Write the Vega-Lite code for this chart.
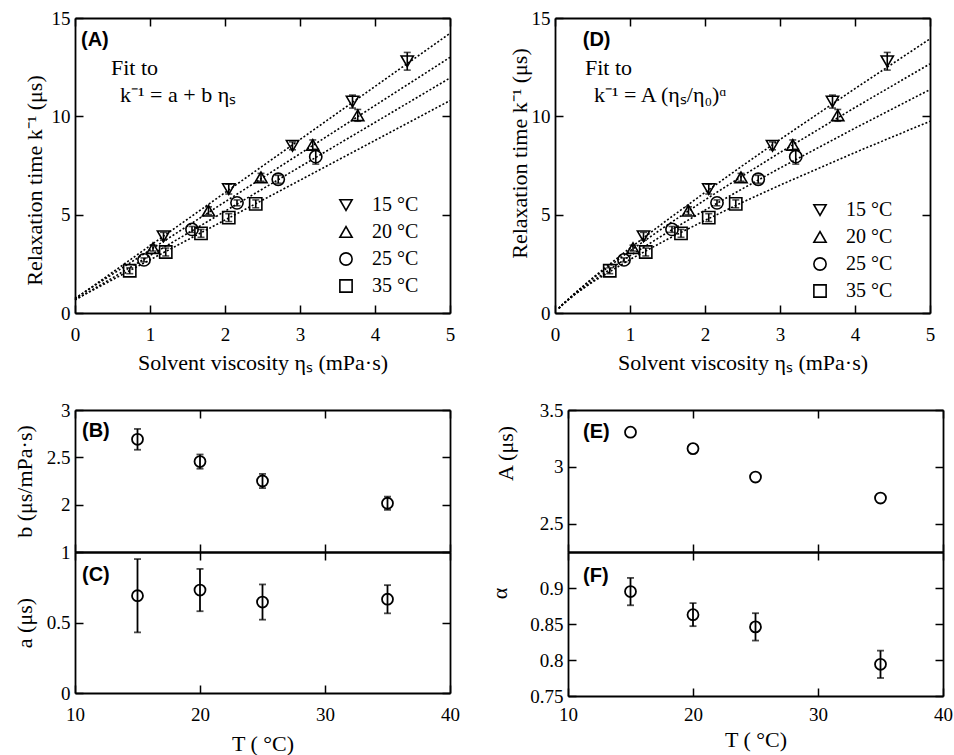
{
  "$schema": "https://vega.github.io/schema/vega-lite/v6.json",
  "width": 954,
  "height": 755,
  "autosize": {"type": "none"},
  "padding": 0,
  "background": "white",
  "config": {
    "view": {"stroke": null},
    "font": "Liberation Serif, Times New Roman, serif",
    "axis": {
      "domain": true, "domainColor": "black", "domainWidth": 1.8,
      "ticks": true, "tickColor": "black", "tickWidth": 1.5, "tickSize": -8,
      "grid": false,
      "labelFont": "Liberation Serif, Times New Roman, serif", "labelFontSize": 19, "labelColor": "black",
      "labelFlush": false, "labelOverlap": false, "labelBound": false,
      "titleFont": "Liberation Serif, Times New Roman, serif", "titleFontSize": 22, "titleFontWeight": "normal", "titleColor": "black",
      "minExtent": 0
    },
    "axisX": {"labelPadding": 20},
    "axisY": {"labelPadding": 13},
    "legend": {
      "labelFont": "Liberation Serif, Times New Roman, serif", "labelFontSize": 20, "labelColor": "black",
      "padding": 0, "rowPadding": 7, "labelOffset": 16,
      "symbolStrokeWidth": 1.6, "symbolStrokeColor": "black", "symbolFillColor": "transparent", "symbolSize": 150
    }
  },
  "datasets": {
    "pts": [
      {"T": "15 °C", "eta": 1.18, "k": 3.9, "err": 0.2},
      {"T": "15 °C", "eta": 2.05, "k": 6.3, "err": 0.25},
      {"T": "15 °C", "eta": 2.9, "k": 8.5, "err": 0.2},
      {"T": "15 °C", "eta": 3.7, "k": 10.75, "err": 0.33},
      {"T": "15 °C", "eta": 4.43, "k": 12.8, "err": 0.45},
      {"T": "20 °C", "eta": 1.04, "k": 3.3, "err": 0.15},
      {"T": "20 °C", "eta": 1.78, "k": 5.2, "err": 0.2},
      {"T": "20 °C", "eta": 2.48, "k": 6.9, "err": 0.2},
      {"T": "20 °C", "eta": 3.17, "k": 8.55, "err": 0.25},
      {"T": "20 °C", "eta": 3.77, "k": 10.05, "err": 0.3},
      {"T": "25 °C", "eta": 0.92, "k": 2.7, "err": 0.1},
      {"T": "25 °C", "eta": 1.56, "k": 4.25, "err": 0.15},
      {"T": "25 °C", "eta": 2.16, "k": 5.6, "err": 0.15},
      {"T": "25 °C", "eta": 2.71, "k": 6.8, "err": 0.2},
      {"T": "25 °C", "eta": 3.21, "k": 7.95, "err": 0.38},
      {"T": "35 °C", "eta": 0.73, "k": 2.15, "err": 0.15},
      {"T": "35 °C", "eta": 1.21, "k": 3.1, "err": 0.2},
      {"T": "35 °C", "eta": 1.68, "k": 4.05, "err": 0.2},
      {"T": "35 °C", "eta": 2.05, "k": 4.85, "err": 0.2},
      {"T": "35 °C", "eta": 2.41, "k": 5.55, "err": 0.2}
    ],
    "fitA": [
      {"T": "15 °C", "eta": 0, "k": 0.72}, {"T": "15 °C", "eta": 5, "k": 14.22},
      {"T": "20 °C", "eta": 0, "k": 0.75}, {"T": "20 °C", "eta": 5, "k": 13.0},
      {"T": "25 °C", "eta": 0, "k": 0.66}, {"T": "25 °C", "eta": 5, "k": 11.95},
      {"T": "35 °C", "eta": 0, "k": 0.68}, {"T": "35 °C", "eta": 5, "k": 10.8}
    ],
    "fitD": [
      {"T": "15 °C", "eta": 0.05, "k": 0.23}, {"T": "15 °C", "eta": 0.1, "k": 0.42}, {"T": "15 °C", "eta": 0.25, "k": 0.95}, {"T": "15 °C", "eta": 0.5, "k": 1.78}, {"T": "15 °C", "eta": 1, "k": 3.3}, {"T": "15 °C", "eta": 1.5, "k": 4.74}, {"T": "15 °C", "eta": 2, "k": 6.13}, {"T": "15 °C", "eta": 2.5, "k": 7.49}, {"T": "15 °C", "eta": 3, "k": 8.82}, {"T": "15 °C", "eta": 4, "k": 11.41}, {"T": "15 °C", "eta": 5, "k": 13.94},
      {"T": "20 °C", "eta": 0.05, "k": 0.24}, {"T": "20 °C", "eta": 0.1, "k": 0.43}, {"T": "20 °C", "eta": 0.25, "k": 0.96}, {"T": "20 °C", "eta": 0.5, "k": 1.74}, {"T": "20 °C", "eta": 1, "k": 3.16}, {"T": "20 °C", "eta": 1.5, "k": 4.48}, {"T": "20 °C", "eta": 2, "k": 5.75}, {"T": "20 °C", "eta": 2.5, "k": 6.97}, {"T": "20 °C", "eta": 3, "k": 8.16}, {"T": "20 °C", "eta": 4, "k": 10.45}, {"T": "20 °C", "eta": 5, "k": 12.67},
      {"T": "25 °C", "eta": 0.05, "k": 0.23}, {"T": "25 °C", "eta": 0.1, "k": 0.42}, {"T": "25 °C", "eta": 0.25, "k": 0.9}, {"T": "25 °C", "eta": 0.5, "k": 1.62}, {"T": "25 °C", "eta": 1, "k": 2.91}, {"T": "25 °C", "eta": 1.5, "k": 4.1}, {"T": "25 °C", "eta": 2, "k": 5.23}, {"T": "25 °C", "eta": 2.5, "k": 6.32}, {"T": "25 °C", "eta": 3, "k": 7.37}, {"T": "25 °C", "eta": 4, "k": 9.4}, {"T": "25 °C", "eta": 5, "k": 11.36},
      {"T": "35 °C", "eta": 0.05, "k": 0.25}, {"T": "35 °C", "eta": 0.1, "k": 0.44}, {"T": "35 °C", "eta": 0.25, "k": 0.91}, {"T": "35 °C", "eta": 0.5, "k": 1.57}, {"T": "35 °C", "eta": 1, "k": 2.72}, {"T": "35 °C", "eta": 1.5, "k": 3.75}, {"T": "35 °C", "eta": 2, "k": 4.71}, {"T": "35 °C", "eta": 2.5, "k": 5.63}, {"T": "35 °C", "eta": 3, "k": 6.5}, {"T": "35 °C", "eta": 4, "k": 8.16}, {"T": "35 °C", "eta": 5, "k": 9.75}
    ],
    "par": [
      {"T": 15, "b": 2.69, "b_err": 0.11, "a": 0.69, "a_err": 0.26, "A": 3.305, "alpha": 0.895, "alpha_err": 0.019},
      {"T": 20, "b": 2.455, "b_err": 0.075, "a": 0.73, "a_err": 0.15, "A": 3.16, "alpha": 0.863, "alpha_err": 0.016},
      {"T": 25, "b": 2.25, "b_err": 0.075, "a": 0.645, "a_err": 0.125, "A": 2.91, "alpha": 0.846, "alpha_err": 0.019},
      {"T": 35, "b": 2.015, "b_err": 0.07, "a": 0.665, "a_err": 0.1, "A": 2.725, "alpha": 0.794, "alpha_err": 0.019}
    ],
    "lab": [
      {"p": "A", "kind": "panel", "x": 0.08, "y": 13.9, "text": "(A)"},
      {"p": "A", "kind": "note", "x": 0.48, "y": 12.45, "text": "Fit to"},
      {"p": "A", "kind": "note", "x": 0.6, "y": 11.1, "text": "k⁻¹ = a + b ηₛ"},
      {"p": "D", "kind": "panel", "x": 0.37, "y": 13.9, "text": "(D)"},
      {"p": "D", "kind": "note", "x": 0.4, "y": 12.45, "text": "Fit to"},
      {"p": "D", "kind": "note", "x": 0.52, "y": 11.1, "text": "k⁻¹ = A (ηₛ/η₀)ᵅ"},
      {"p": "B", "kind": "panel", "x": 10.56, "y": 2.78, "text": "(B)"},
      {"p": "C", "kind": "panel", "x": 10.56, "y": 0.837, "text": "(C)"},
      {"p": "E", "kind": "panel", "x": 11.2, "y": 3.31, "text": "(E)"},
      {"p": "F", "kind": "panel", "x": 11.2, "y": 0.916, "text": "(F)"}
    ]
  },
  "resolve": {
    "scale": {"x": "independent", "y": "independent", "shape": "independent"},
    "axis": {"x": "independent", "y": "independent"},
    "legend": {"shape": "independent"}
  },
  "layer": [
    {
      "layer": [
        {
          "data": {"name": "fitA"},
          "mark": {"type": "line", "color": "black", "strokeWidth": 1.6, "strokeDash": [2, 2]},
          "encoding": {
            "x": {"field": "eta", "type": "quantitative", "scale": {"domain": [0, 5], "range": [75, 450], "nice": false, "zero": false},
                  "axis": {"orient": "bottom", "offset": -442, "values": [0, 1, 2, 3, 4, 5], "format": "d", "title": "Solvent viscosity  ηₛ (mPa·s)", "titlePadding": 8}},
            "y": {"field": "k", "type": "quantitative", "scale": {"domain": [0, 15], "range": [313, 18], "nice": false, "zero": false},
                  "axis": {"orient": "left", "offset": -75, "values": [0, 5, 10, 15], "format": "d", "title": "Relaxation time  k⁻¹ (μs)", "titlePadding": 5, "titleY": 180}},
            "detail": {"field": "T", "type": "nominal"}
          }
        },
        {
          "data": {"name": "pts"},
          "mark": {"type": "errorbar", "ticks": true, "size": 7, "thickness": 1.6, "color": "black"},
          "encoding": {
            "x": {"field": "eta", "type": "quantitative", "axis": null},
            "y": {"field": "k", "type": "quantitative", "axis": null},
            "yError": {"field": "err"}
          }
        },
        {
          "data": {"name": "pts"},
          "mark": {"type": "point", "filled": false, "color": "black", "strokeWidth": 1.6, "size": 150, "opacity": 1},
          "encoding": {
            "x": {"field": "eta", "type": "quantitative", "axis": null},
            "y": {"field": "k", "type": "quantitative", "axis": null},
            "shape": {"field": "T", "type": "nominal",
                      "scale": {"domain": ["15 °C", "20 °C", "25 °C", "35 °C"], "range": ["triangle-down", "triangle-up", "circle", "square"]},
                      "legend": {"orient": "none", "legendX": 336, "legendY": 195, "title": null}}
          }
        },
        {
          "data": {"name": "lab"},
          "transform": [{"filter": "datum.p === 'A' && datum.kind === 'panel'"}],
          "mark": {"type": "text", "font": "Liberation Sans, Arial, sans-serif", "fontWeight": "bold", "fontSize": 20, "align": "left", "baseline": "middle", "color": "black"},
          "encoding": {
            "x": {"field": "x", "type": "quantitative", "axis": {"orient": "top", "offset": -18, "values": [0, 1, 2, 3, 4, 5], "labels": false, "title": null}},
            "y": {"field": "y", "type": "quantitative", "axis": {"orient": "right", "offset": -504, "values": [0, 5, 10, 15], "labels": false, "title": null}},
            "text": {"field": "text"}
          }
        },
        {
          "data": {"name": "lab"},
          "transform": [{"filter": "datum.p === 'A' && datum.kind === 'note'"}],
          "mark": {"type": "text", "font": "Liberation Serif, Times New Roman, serif", "fontSize": 22, "align": "left", "baseline": "middle", "color": "black"},
          "encoding": {
            "x": {"field": "x", "type": "quantitative", "axis": null},
            "y": {"field": "y", "type": "quantitative", "axis": null},
            "text": {"field": "text"}
          }
        }
      ]
    },
    {
      "layer": [
        {
          "data": {"name": "fitD"},
          "mark": {"type": "line", "color": "black", "strokeWidth": 1.6, "strokeDash": [2, 2]},
          "encoding": {
            "x": {"field": "eta", "type": "quantitative", "scale": {"domain": [0, 5], "range": [555, 930], "nice": false, "zero": false},
                  "axis": {"orient": "bottom", "offset": -442, "values": [0, 1, 2, 3, 4, 5], "format": "d", "title": "Solvent viscosity  ηₛ (mPa·s)", "titlePadding": 8}},
            "y": {"field": "k", "type": "quantitative", "scale": {"domain": [0, 15], "range": [313, 18], "nice": false, "zero": false},
                  "axis": {"orient": "left", "offset": -555, "values": [0, 5, 10, 15], "format": "d", "title": "Relaxation time  k⁻¹ (μs)", "titlePadding": 0, "titleY": 153}},
            "detail": {"field": "T", "type": "nominal"}
          }
        },
        {
          "data": {"name": "pts"},
          "mark": {"type": "errorbar", "ticks": true, "size": 7, "thickness": 1.6, "color": "black"},
          "encoding": {
            "x": {"field": "eta", "type": "quantitative", "axis": null},
            "y": {"field": "k", "type": "quantitative", "axis": null},
            "yError": {"field": "err"}
          }
        },
        {
          "data": {"name": "pts"},
          "mark": {"type": "point", "filled": false, "color": "black", "strokeWidth": 1.6, "size": 150, "opacity": 1},
          "encoding": {
            "x": {"field": "eta", "type": "quantitative", "axis": null},
            "y": {"field": "k", "type": "quantitative", "axis": null},
            "shape": {"field": "T", "type": "nominal",
                      "scale": {"domain": ["15 °C", "20 °C", "25 °C", "35 °C"], "range": ["triangle-down", "triangle-up", "circle", "square"]},
                      "legend": {"orient": "none", "legendX": 810, "legendY": 200, "title": null}}
          }
        },
        {
          "data": {"name": "lab"},
          "transform": [{"filter": "datum.p === 'D' && datum.kind === 'panel'"}],
          "mark": {"type": "text", "font": "Liberation Sans, Arial, sans-serif", "fontWeight": "bold", "fontSize": 20, "align": "left", "baseline": "middle", "color": "black"},
          "encoding": {
            "x": {"field": "x", "type": "quantitative", "axis": {"orient": "top", "offset": -18, "values": [0, 1, 2, 3, 4, 5], "labels": false, "title": null}},
            "y": {"field": "y", "type": "quantitative", "axis": {"orient": "right", "offset": -24, "values": [0, 5, 10, 15], "labels": false, "title": null}},
            "text": {"field": "text"}
          }
        },
        {
          "data": {"name": "lab"},
          "transform": [{"filter": "datum.p === 'D' && datum.kind === 'note'"}],
          "mark": {"type": "text", "font": "Liberation Serif, Times New Roman, serif", "fontSize": 22, "align": "left", "baseline": "middle", "color": "black"},
          "encoding": {
            "x": {"field": "x", "type": "quantitative", "axis": null},
            "y": {"field": "y", "type": "quantitative", "axis": null},
            "text": {"field": "text"}
          }
        }
      ]
    },
    {
      "layer": [
        {
          "data": {"name": "par"},
          "mark": {"type": "errorbar", "ticks": true, "size": 7, "thickness": 1.8, "color": "black"},
          "encoding": {
            "x": {"field": "T", "type": "quantitative", "scale": {"domain": [10, 40], "range": [75, 450], "nice": false, "zero": false},
                  "axis": {"orient": "bottom", "offset": -203, "values": [10, 20, 30, 40], "labels": false, "title": null}},
            "y": {"field": "b", "type": "quantitative", "scale": {"domain": [1.5, 3], "range": [552, 410], "nice": false, "zero": false},
                  "axis": {"orient": "left", "offset": -75, "values": [2, 2.5, 3], "format": ".2~f", "title": "b  (μs/mPa·s)", "titlePadding": 10}},
            "yError": {"field": "b_err"}
          }
        },
        {
          "data": {"name": "par"},
          "mark": {"type": "point", "shape": "circle", "filled": false, "color": "black", "strokeWidth": 1.8, "size": 120, "opacity": 1},
          "encoding": {
            "x": {"field": "T", "type": "quantitative", "axis": null},
            "y": {"field": "b", "type": "quantitative", "axis": null}
          }
        },
        {
          "data": {"name": "lab"},
          "transform": [{"filter": "datum.p === 'B'"}],
          "mark": {"type": "text", "font": "Liberation Sans, Arial, sans-serif", "fontWeight": "bold", "fontSize": 20, "align": "left", "baseline": "middle", "color": "black"},
          "encoding": {
            "x": {"field": "x", "type": "quantitative", "axis": {"orient": "top", "offset": -410, "values": [10, 20, 30, 40], "labels": false, "title": null}},
            "y": {"field": "y", "type": "quantitative", "axis": {"orient": "right", "offset": -504, "values": [2, 2.5, 3], "labels": false, "title": null}},
            "text": {"field": "text"}
          }
        }
      ]
    },
    {
      "layer": [
        {
          "data": {"name": "par"},
          "mark": {"type": "errorbar", "ticks": true, "size": 7, "thickness": 1.8, "color": "black"},
          "encoding": {
            "x": {"field": "T", "type": "quantitative", "scale": {"domain": [10, 40], "range": [75, 450], "nice": false, "zero": false},
                  "axis": {"orient": "bottom", "offset": -62, "values": [10, 20, 30, 40], "format": "d", "title": "T ( °C)", "titlePadding": 9}},
            "y": {"field": "a", "type": "quantitative", "scale": {"domain": [0, 1], "range": [693, 552], "nice": false, "zero": false},
                  "axis": {"orient": "left", "offset": -75, "values": [0, 0.5, 1], "format": ".2~f", "title": "a  (μs)", "titlePadding": 10}},
            "yError": {"field": "a_err"}
          }
        },
        {
          "data": {"name": "par"},
          "mark": {"type": "point", "shape": "circle", "filled": false, "color": "black", "strokeWidth": 1.8, "size": 120, "opacity": 1},
          "encoding": {
            "x": {"field": "T", "type": "quantitative", "axis": null},
            "y": {"field": "a", "type": "quantitative", "axis": null}
          }
        },
        {
          "data": {"name": "lab"},
          "transform": [{"filter": "datum.p === 'C'"}],
          "mark": {"type": "text", "font": "Liberation Sans, Arial, sans-serif", "fontWeight": "bold", "fontSize": 20, "align": "left", "baseline": "middle", "color": "black"},
          "encoding": {
            "x": {"field": "x", "type": "quantitative", "axis": {"orient": "top", "offset": -552, "values": [10, 20, 30, 40], "labels": false, "title": null}},
            "y": {"field": "y", "type": "quantitative", "axis": {"orient": "right", "offset": -504, "values": [0, 0.5, 1], "labels": false, "title": null}},
            "text": {"field": "text"}
          }
        }
      ]
    },
    {
      "layer": [
        {
          "data": {"name": "par"},
          "mark": {"type": "point", "shape": "circle", "filled": false, "color": "black", "strokeWidth": 1.8, "size": 120, "opacity": 1},
          "encoding": {
            "x": {"field": "T", "type": "quantitative", "scale": {"domain": [10, 40], "range": [568, 943], "nice": false, "zero": false},
                  "axis": {"orient": "bottom", "offset": -203, "values": [10, 20, 30, 40], "labels": false, "title": null}},
            "y": {"field": "A", "type": "quantitative", "scale": {"domain": [2.25, 3.5], "range": [552, 410], "nice": false, "zero": false},
                  "axis": {"orient": "left", "offset": -568, "values": [2.5, 3, 3.5], "format": ".2~f", "title": "A  (μs)", "titlePadding": 22, "titleY": 453}}
          }
        },
        {
          "data": {"name": "lab"},
          "transform": [{"filter": "datum.p === 'E'"}],
          "mark": {"type": "text", "font": "Liberation Sans, Arial, sans-serif", "fontWeight": "bold", "fontSize": 20, "align": "left", "baseline": "middle", "color": "black"},
          "encoding": {
            "x": {"field": "x", "type": "quantitative", "axis": {"orient": "top", "offset": -410, "values": [10, 20, 30, 40], "labels": false, "title": null}},
            "y": {"field": "y", "type": "quantitative", "axis": {"orient": "right", "offset": -11, "values": [2.5, 3, 3.5], "labels": false, "title": null}},
            "text": {"field": "text"}
          }
        }
      ]
    },
    {
      "layer": [
        {
          "data": {"name": "par"},
          "mark": {"type": "errorbar", "ticks": true, "size": 7, "thickness": 1.8, "color": "black"},
          "encoding": {
            "x": {"field": "T", "type": "quantitative", "scale": {"domain": [10, 40], "range": [568, 943], "nice": false, "zero": false},
                  "axis": {"orient": "bottom", "offset": -59, "values": [10, 20, 30, 40], "format": "d", "title": "T ( °C)", "titlePadding": 5, "labelPadding": 17}},
            "y": {"field": "alpha", "type": "quantitative", "scale": {"domain": [0.75, 0.95], "range": [696, 552], "nice": false, "zero": false},
                  "axis": {"orient": "left", "offset": -568, "values": [0.75, 0.8, 0.85, 0.9], "format": ".2~f", "title": "α", "titlePadding": 18, "titleY": 593}},
            "yError": {"field": "alpha_err"}
          }
        },
        {
          "data": {"name": "par"},
          "mark": {"type": "point", "shape": "circle", "filled": false, "color": "black", "strokeWidth": 1.8, "size": 120, "opacity": 1},
          "encoding": {
            "x": {"field": "T", "type": "quantitative", "axis": null},
            "y": {"field": "alpha", "type": "quantitative", "axis": null}
          }
        },
        {
          "data": {"name": "lab"},
          "transform": [{"filter": "datum.p === 'F'"}],
          "mark": {"type": "text", "font": "Liberation Sans, Arial, sans-serif", "fontWeight": "bold", "fontSize": 20, "align": "left", "baseline": "middle", "color": "black"},
          "encoding": {
            "x": {"field": "x", "type": "quantitative", "axis": {"orient": "top", "offset": -552, "values": [10, 20, 30, 40], "labels": false, "title": null}},
            "y": {"field": "y", "type": "quantitative", "axis": {"orient": "right", "offset": -11, "values": [0.75, 0.8, 0.85, 0.9], "labels": false, "title": null}},
            "text": {"field": "text"}
          }
        }
      ]
    }
  ]
}
